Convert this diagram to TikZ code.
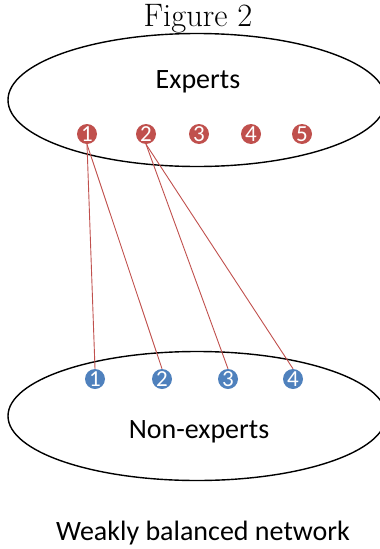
\documentclass[tikz,border=0pt]{standalone}
\usepackage{fontspec}
\setsansfont{Carlito}
\usetikzlibrary{shapes.geometric}
\definecolor{expred}{HTML}{C0504D}
\definecolor{nonblue}{HTML}{4F81BD}
\begin{document}
\begin{tikzpicture}[x=1pt,y=-1pt,
  grp/.style={draw=black,line width=1.4pt,ellipse,inner sep=0pt},
  lbl/.style={font=\sffamily\fontsize{28}{32}\selectfont,inner sep=0pt},
  dot/.style={circle,inner sep=0pt,minimum size=20pt,text=white,
    font=\sffamily\fontsize{23}{24}\selectfont},
  rdot/.style={dot,fill=expred},
  bdot/.style={dot,fill=nonblue},
  link/.style={draw=expred,line width=0.9pt}]
\useasboundingbox (0,0) rectangle (380,549);
\node[font=\fontsize{32.5}{38}\selectfont,inner sep=0pt,anchor=base] (title) at (198,26) {Figure 2};
\node[grp,minimum width=378pt,minimum height=133pt] (top) at (197,100) {};
\node[grp,minimum width=378pt,minimum height=129pt] (bot) at (197,416) {};
\node[lbl] (exp) at (198,82) {Experts};
\node[lbl] (non) at (199,432) {Non-experts};
\node[lbl] (cap) at (203,533) {Weakly balanced network};
\node[rdot] (r1) at (87,134) {1};
\node[rdot] (r2) at (146,134) {2};
\node[rdot] (r3) at (199,134) {3};
\node[rdot] (r4) at (251,134) {4};
\node[rdot] (r5) at (302,134) {5};
\node[bdot] (b1) at (95,379) {1};
\node[bdot] (b2) at (162,379) {2};
\node[bdot] (b3) at (228,379) {3};
\node[bdot] (b4) at (293,379) {4};
\draw[link] (r1.south) -- (b1.north);
\draw[link] (r1.south) -- (b2.north);
\draw[link] (r2.south) -- (b3.north);
\draw[link] (r2.south) -- (b4.north);
\end{tikzpicture}
\end{document}
